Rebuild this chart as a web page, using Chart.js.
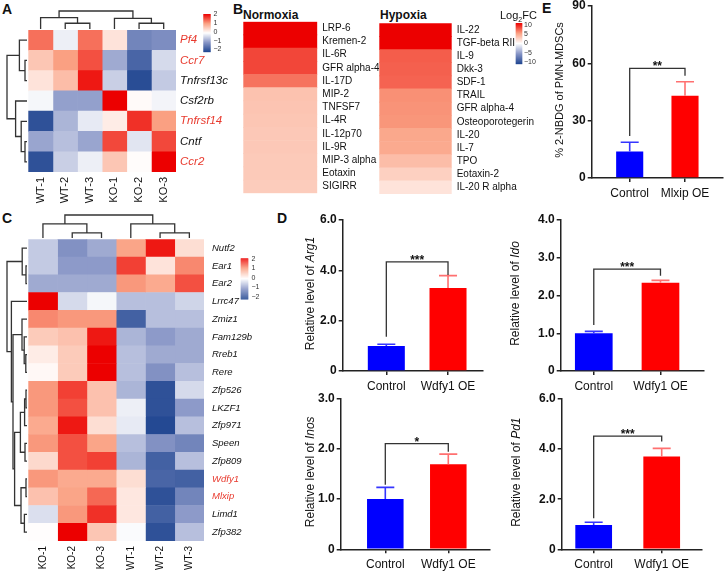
<!DOCTYPE html>
<html><head><meta charset="utf-8">
<script src="https://cdn.jsdelivr.net/npm/chart.js@4.4.1/dist/chart.umd.min.js"></script>
<style>
html,body{margin:0;padding:0;background:#fff;}
body{width:724px;height:571px;overflow:hidden;position:relative;font-family:'Liberation Sans',Arial,sans-serif;color:#111;}
canvas{position:absolute;left:0;top:0;}
.lt{position:absolute;font-weight:bold;font-size:14px;line-height:14px;white-space:nowrap;}
.tt{position:absolute;font-weight:bold;font-size:12px;line-height:12px;white-space:nowrap;}
</style></head><body>
<div class="lt" style="left:2px;top:2px">A</div>
<div class="lt" style="left:233px;top:2px">B</div>
<div class="lt" style="left:2px;top:211px">C</div>
<div class="lt" style="left:277px;top:211px">D</div>
<div class="lt" style="left:542px;top:1px">E</div>
<div class="tt" style="left:243px;top:9px">Normoxia</div>
<div class="tt" style="left:380px;top:9px">Hypoxia</div>
<script>
// ---------------- DATA ----------------
// Panel A
const colsA = ['WT-1','WT-2','WT-3','KO-1','KO-2','KO-3'];
const genesA = ['Pf4','Ccr7','Tnfrsf13c','Csf2rb','Tnfrsf14','Cntf','Ccr2'];
const redGenesA = ['Pf4','Ccr7','Tnfrsf14','Ccr2'];
const zA = [
  [1.3,-0.15,1.3,0.3,-1.2,-1.1],
  [0.6,1.0,1.5,-0.8,-1.6,-0.35],
  [0.3,0.7,1.85,-0.45,-1.9,-0.5],
  [-0.08,-0.9,-0.9,2.0,0.05,-0.1],
  [-1.85,-0.7,-0.2,0.2,1.7,1.0],
  [-0.85,-0.6,-0.85,1.55,-0.25,1.55],
  [-1.85,-0.45,-0.15,0.6,0.03,2.0]
];
const rowTreeA = [[0,[1,2,0.1],0.38],[3,[4,[5,6,0.1],0.29],0.57],1];
const colTreeA = [[0,[1,2,0.32],0.63],[3,[4,5,0.32],0.59],1];
const zTicks = [2,1,0,-1,-2];

// Panel B
const normoxiaLabels = ['LRP-6','Kremen-2','IL-6R','GFR alpha-4','IL-17D','MIP-2','TNFSF7','IL-4R','IL-12p70','IL-9R','MIP-3 alpha','Eotaxin','SIGIRR'];
const normoxiaFC = [10,10,7.8,7.8,6.4,3.2,3.1,3.0,2.9,2.9,2.8,2.8,2.7];
const hypoxiaLabels = ['IL-22','TGF-beta RII','IL-9','Dkk-3','SDF-1','TRAIL','GFR alpha-4','Osteoporotegerin','IL-20','IL-7','TPO','Eotaxin-2','IL-20 R alpha'];
const hypoxiaFC = [10,10,7.1,7.0,6.9,5.5,5.4,5.3,4.6,4.5,3.5,2.5,1.5];
const fcTicks = [10,5,0,-5,-10];

// Panel C
const colsC = ['KO-1','KO-2','KO-3','WT-1','WT-2','WT-3'];
const genesC = ['Nutf2','Ear1','Ear2','Lrrc47','Zmiz1','Fam129b','Rreb1','Rere','Zfp526','LKZF1','Zfp971','Speen','Zfp809','Wdfy1','Mlxip','Limd1','Zfp382'];
const redGenesC = ['Wdfy1','Mlxip'];
const zC = [
  [-0.5,-1.05,-0.8,0.95,1.85,0.35],
  [-0.5,-0.95,-0.95,1.6,0.3,1.15],
  [-0.8,-0.8,-0.8,1.05,0.9,1.5],
  [2.0,-0.35,-0.08,-0.6,-0.6,-0.4],
  [1.15,1.05,1.05,-1.65,-0.6,-0.6],
  [0.55,0.65,1.85,-0.7,-0.95,-0.8],
  [0.2,0.55,2.0,-0.6,-0.8,-0.8],
  [0.07,0.55,2.0,-0.6,-1.05,-0.6],
  [1.05,1.6,0.65,-0.7,-1.85,-0.35],
  [1.05,1.5,0.65,-0.15,-1.85,-0.95],
  [0.9,1.85,0.35,-0.2,-1.95,-0.6],
  [1.05,1.5,0.95,-0.6,-1.05,-1.2],
  [0.4,1.5,1.6,-0.7,-1.65,-0.6],
  [1.05,0.9,0.9,0.35,-1.6,-1.65],
  [0.65,0.95,1.35,0.25,-1.85,-1.2],
  [-0.3,1.05,1.7,0.25,-1.65,-0.95],
  [0.02,2.0,0.6,-0.04,-1.85,-0.6]
];
const rowTreeC = [[0,[1,2,0.05],0.24],[3,[[4,[5,[6,7,0.06],0.14],0.25],[[[[8,9,0.05],10,0.12],[11,12,0.1],0.33],[[13,14,0.05],[15,16,0.13],0.3],0.62],0.7],0.78],1];
const colTreeC = [[0,[1,2,0.22],0.61],[3,[4,5,0.22],0.61],1];

// Panel D
const groupsD = ['Control','Wdfy1 OE'];
const arg1Mean = [0.99,3.30], arg1Sd = [0.07,0.49];
const arg1Sig = {stars:'***', h:4.34, left:1.36, right:3.81};
const arg1Ticks = [0,2,4,6];
const idoMean = [1.0,2.34], idoSd = [0.05,0.06];
const idoSig = {stars:'***', h:2.7, left:1.22, right:2.52};
const idoTicks = [0,1,2,3,4];
const inosMean = [1.0,1.69], inosSd = [0.23,0.2];
const inosSig = {stars:'*', h:2.1, left:1.28, right:1.94};
const inosTicks = [0,1,2,3];
const pd1Mean = [0.97,3.70], pd1Sd = [0.11,0.33];
const pd1Sig = {stars:'***', h:4.52, left:1.24, right:4.3};
const pd1Ticks = [0,2,4,6];

// Panel E
const groupsE = ['Control','Mlxip OE'];
const nbdgMean = [13.9,43.1], nbdgSd = [4.8,7.3];
const nbdgSig = {stars:'**', h:57.4, left:22, right:53.5};
const nbdgTicks = [0,30,60,90];

// ---------------- SETUP ----------------
const FONT = "'Liberation Sans', Arial, Helvetica, sans-serif";
Chart.defaults.font.family = FONT;
Chart.defaults.color = '#111';
Chart.defaults.animation = false;
Chart.defaults.events = [];
Chart.defaults.responsive = false;
Chart.defaults.maintainAspectRatio = false;
Chart.defaults.plugins.legend.display = false;
Chart.defaults.plugins.tooltip.enabled = false;
const W = 724, H = 571;
const RED_TXT = '#e8392d';

function mk(){ const c=document.createElement('canvas'); c.width=W; c.height=H; c.style.width=W+'px'; c.style.height=H+'px'; document.body.appendChild(c); return c; }

function makePalette(lim){
  const stops=[[-1,[31,69,144]],[-0.5,[135,149,198]],[0,[255,255,255]],[0.5,[250,160,130]],[1,[236,0,0]]];
  return v=>{
    const t=Math.max(-1,Math.min(1,v/lim));
    for(let k=0;k<stops.length-1;k++){
      const [a,ca]=stops[k],[b,cb]=stops[k+1];
      if(t>=a&&t<=b){ const f=(t-a)/(b-a); const c=ca.map((x,i)=>Math.round(x+(cb[i]-x)*f)); return `rgb(${c[0]},${c[1]},${c[2]})`; }
    }
    return 'rgb(255,255,255)';
  };
}

function drawTree(ctx,node,leafPos,hPix,horiz){
  if(typeof node==='number') return {p:leafPos(node),h:0};
  const a=drawTree(ctx,node[0],leafPos,hPix,horiz), b=drawTree(ctx,node[1],leafPos,hPix,horiz);
  const h=node[2];
  ctx.beginPath();
  if(horiz){ ctx.moveTo(hPix(a.h),a.p); ctx.lineTo(hPix(h),a.p); ctx.lineTo(hPix(h),b.p); ctx.lineTo(hPix(b.h),b.p); }
  else { ctx.moveTo(a.p,hPix(a.h)); ctx.lineTo(a.p,hPix(h)); ctx.lineTo(b.p,hPix(h)); ctx.lineTo(b.p,hPix(b.h)); }
  ctx.stroke();
  return {p:(a.p+b.p)/2,h};
}

const dendroPlugin = { id:'dendro', afterDraw(chart,args,o){
  if(!o||(!o.rowTree&&!o.colTree)) return;
  const ctx=chart.ctx, xs=chart.scales.x, ys=chart.scales.y;
  ctx.save(); ctx.strokeStyle='#333'; ctx.lineWidth=1.3; ctx.lineJoin='miter'; ctx.lineCap='butt';
  if(o.colTree) drawTree(ctx,o.colTree,i=>xs.getPixelForValue(i+0.5),h=>o.colBase-h*o.colSpan,false);
  if(o.rowTree) drawTree(ctx,o.rowTree,i=>ys.getPixelForValue(i),h=>o.rowBase-h*o.rowSpan,true);
  ctx.restore();
}};

const colorbarPlugin = { id:'colorbar', afterDraw(chart,args,o){
  if(!o||!o.ticks) return;
  const ctx=chart.ctx, pal=makePalette(o.lim);
  ctx.save();
  for(let k=0;k<o.h;k++){ const v=o.lim-(k+0.5)/o.h*2*o.lim; ctx.fillStyle=pal(v); ctx.fillRect(o.x,o.y+k,o.w,1.2); }
  ctx.font=`${o.fs}px ${FONT}`; ctx.fillStyle='#333'; ctx.textAlign='left'; ctx.textBaseline='middle';
  o.ticks.forEach(t=>{ const yy=o.ty0+(o.lim-t)/(2*o.lim)*(o.ty1-o.ty0); ctx.fillText(String(t).replace('-','\u2212'),o.tx,yy); });
  if(o.title){
    ctx.fillStyle='#111'; ctx.textBaseline='alphabetic';
    let x=o.titleX;
    o.title.forEach(p=>{ ctx.font=`${p.sub?7:11}px ${FONT}`; ctx.fillText(p.text,x,o.titleY+(p.sub?3:0)); x+=ctx.measureText(p.text).width; });
  }
  ctx.restore();
}};

function heatmap(cfg){
  const {rows,cols,z,lim,area,yW,xH,rowFont,colFont,redRows,rowPad,colPad} = cfg;
  const pal=makePalette(lim);
  const nC=cols?cols.length:1;
  const datasets=[];
  for(let j=0;j<nC;j++) datasets.push({data:rows.map(()=>1),backgroundColor:rows.map((r,i)=>pal(Array.isArray(z[i])?z[i][j]:z[i])),borderWidth:0,barPercentage:1,categoryPercentage:1});
  const xh = cols?xH:0;
  new Chart(mk(),{type:'bar',data:{labels:rows,datasets},options:{
    indexAxis:'y',
    layout:{padding:{left:area.l,top:area.t,right:W-area.r-yW,bottom:H-area.b-xh}},
    scales:{
      x:{type:'linear',stacked:true,min:0,max:nC,bounds:'data',display:!!cols,offset:false,
         grid:{display:false,drawTicks:false},border:{display:false},
         afterBuildTicks:ax=>{ if(cols) ax.ticks=cols.map((c,i)=>({value:i+0.5})); },
         ticks:{callback:v=>cols?cols[Math.floor(v)]:'',minRotation:90,maxRotation:90,autoSkip:false,padding:colPad||4,font:colFont,color:'#111'},
         afterFit:ax=>{ax.height=xh;ax.paddingLeft=0;ax.paddingRight=0;}},
      y:{position:'right',stacked:true,offset:true,grid:{display:false,drawTicks:false},border:{display:false},
         ticks:{autoSkip:false,padding:rowPad,font:rowFont,color:c=>(redRows&&redRows.includes(rows[c.index]))?RED_TXT:'#111'},
         afterFit:ax=>{ax.width=yW;ax.paddingTop=0;ax.paddingBottom=0;}}
    },
    plugins:{dendro:cfg.dendro||{},colorbar:cfg.colorbar||{}}
  },plugins:[dendroPlugin,colorbarPlugin]});
}

const errPlugin = { id:'errbars', afterDatasetsDraw(chart,args,o){
  if(!o||!o.mean) return;
  const ctx=chart.ctx, xs=chart.scales.x, ys=chart.scales.y;
  ctx.save(); ctx.lineCap='butt';
  o.mean.forEach((m,i)=>{
    const x=xs.getPixelForValue(i), y0=ys.getPixelForValue(m), y1=ys.getPixelForValue(m+o.sd[i]);
    ctx.strokeStyle=o.colors[i]; ctx.lineWidth=1.6;
    ctx.beginPath(); ctx.moveTo(x,y0); ctx.lineTo(x,y1); ctx.moveTo(x-o.cap,y1); ctx.lineTo(x+o.cap,y1); ctx.stroke();
  });
  const s=o.sig, xl=xs.getPixelForValue(0), xr=xs.getPixelForValue(1), yb=ys.getPixelForValue(s.h);
  ctx.strokeStyle='#333'; ctx.lineWidth=1.3;
  ctx.beginPath(); ctx.moveTo(xl,ys.getPixelForValue(s.left)); ctx.lineTo(xl,yb); ctx.lineTo(xr,yb); ctx.lineTo(xr,ys.getPixelForValue(s.right)); ctx.stroke();
  ctx.fillStyle='#111'; ctx.font=`bold 12px ${FONT}`; ctx.textAlign='center'; ctx.textBaseline='alphabetic';
  ctx.fillText(s.stars,(xl+xr)/2,yb+2);
  ctx.restore();
}};

const ytitlePlugin = { id:'ytitle', afterDraw(chart,args,o){
  if(!o||!o.parts) return;
  const ctx=chart.ctx, a=chart.chartArea;
  ctx.save(); ctx.translate(o.x,(a.top+a.bottom)/2-2); ctx.rotate(-Math.PI/2);
  ctx.fillStyle='#111'; ctx.textBaseline='middle'; ctx.textAlign='left';
  const fonts=o.parts.map(p=>`${p.italic?'italic ':''}${o.size}px ${FONT}`);
  let tot=0; const ws=o.parts.map((p,i)=>{ctx.font=fonts[i]; const w=ctx.measureText(p.text).width; tot+=w; return w;});
  let xx=-tot/2;
  o.parts.forEach((p,i)=>{ctx.font=fonts[i]; ctx.fillText(p.text,xx,0); xx+=ws[i];});
  ctx.restore();
}};

function barPanel(cfg){
  const {groups,mean,sd,sig,ticks,area,xmin,xmax,barPct,fmt,title,titleX,titleSize} = cfg;
  const yW=40, xH=24;
  new Chart(mk(),{type:'bar',data:{datasets:[{data:groups.map((g,i)=>({x:i,y:mean[i]})),backgroundColor:['#0000ff','#ff0000'],borderWidth:0,barPercentage:barPct,categoryPercentage:1}]},
  options:{
    layout:{padding:{left:area.l-yW,right:W-area.r,top:area.t,bottom:H-area.b-xH}},
    scales:{
      x:{type:'linear',min:xmin,max:xmax,bounds:'data',offset:false,
         grid:{drawOnChartArea:false,drawTicks:true,tickLength:4,color:'#222',lineWidth:1.5,offset:false},
         border:{color:'#222',width:1.5},
         afterBuildTicks:ax=>{ax.ticks=groups.map((g,i)=>({value:i}));},
         ticks:{callback:v=>groups[v],autoSkip:false,maxRotation:0,minRotation:0,padding:4,font:{size:12},color:'#111'},
         afterFit:ax=>{ax.height=xH;ax.paddingLeft=0;ax.paddingRight=0;}},
      y:{type:'linear',min:ticks[0],max:ticks[ticks.length-1],
         afterBuildTicks:ax=>{ax.ticks=ticks.map(v=>({value:v}));},
         ticks:{callback:fmt,font:{size:12,weight:'bold'},color:'#111',padding:2,autoSkip:false},
         grid:{drawOnChartArea:false,drawTicks:true,tickLength:4,color:'#222',lineWidth:1.5},
         border:{color:'#222',width:1.5},
         afterFit:ax=>{ax.width=yW;ax.paddingTop=0;ax.paddingBottom=0;}}
    },
    plugins:{errbars:{mean,sd,sig,colors:['#3535ff','#ff7070'],cap:9},ytitle:{parts:title,x:titleX,size:titleSize||12}}
  },plugins:[errPlugin,ytitlePlugin]});
}

// ---------------- PANELS ----------------
heatmap({rows:genesA,cols:colsA,z:zA,lim:2,area:{l:28.3,r:176,t:30,b:172},yW:60,xH:40,
  rowFont:{size:11.5,style:'italic'},colFont:{size:11},redRows:redGenesA,rowPad:4,colPad:5,
  dendro:{rowTree:rowTreeA,colTree:colTreeA,colBase:29,colSpan:18,rowBase:27,rowSpan:20},
  colorbar:{x:203.3,y:14,w:7.4,h:38,lim:2,ticks:zTicks,tx:213.5,ty0:14.5,ty1:49.5,fs:7}});

heatmap({rows:normoxiaLabels,cols:null,z:normoxiaFC,lim:10,area:{l:243.3,r:317.3,t:21.7,b:193.3},yW:62,xH:0,
  rowFont:{size:10},rowPad:5});

heatmap({rows:hypoxiaLabels,cols:null,z:hypoxiaFC,lim:10,area:{l:379.3,r:451.7,t:23.3,b:194},yW:130,xH:0,
  rowFont:{size:10},rowPad:5,
  colorbar:{x:515.7,y:23,w:6.6,h:41,lim:10,ticks:fcTicks,tx:524,ty0:25,ty1:62,fs:7,
    title:[{text:'Log'},{text:'2',sub:true},{text:'FC'}],titleX:500,titleY:18.5}});

heatmap({rows:genesC,cols:colsC,z:zC,lim:2,area:{l:28.3,r:204,t:239.3,b:541},yW:70,xH:30,
  rowFont:{size:9.5,style:'italic'},colFont:{size:10},redRows:redGenesC,rowPad:8,colPad:5,
  dendro:{rowTree:rowTreeC,colTree:colTreeC,colBase:238,colSpan:23,rowBase:27,rowSpan:20},
  colorbar:{x:240.7,y:258.3,w:7.6,h:41,lim:2,ticks:zTicks,tx:251.5,ty0:258.8,ty1:297,fs:7}});

const fmtD = v=>v===0?'0':v.toFixed(1);
barPanel({groups:groupsD,mean:arg1Mean,sd:arg1Sd,sig:arg1Sig,ticks:arg1Ticks,area:{l:342.7,r:483,t:220,b:371},xmin:-0.707,xmax:1.567,barPct:0.6,fmt:fmtD,
  title:[{text:'Relative level of '},{text:'Arg1',italic:true}],titleX:311});
barPanel({groups:groupsD,mean:idoMean,sd:idoSd,sig:idoSig,ticks:idoTicks,area:{l:560.7,r:703.3,t:220,b:371},xmin:-0.496,xmax:1.642,barPct:0.565,fmt:fmtD,
  title:[{text:'Relative level of '},{text:'Ido',italic:true}],titleX:516});
barPanel({groups:groupsD,mean:inosMean,sd:inosSd,sig:inosSig,ticks:inosTicks,area:{l:340.7,r:490,t:398.3,b:549.3},xmin:-0.708,xmax:1.662,barPct:0.58,fmt:fmtD,
  title:[{text:'Relative level of '},{text:'Inos',italic:true}],titleX:311});
barPanel({groups:groupsD,mean:pd1Mean,sd:pd1Sd,sig:pd1Sig,ticks:pd1Ticks,area:{l:561.7,r:701.7,t:399,b:549.3},xmin:-0.47,xmax:1.588,barPct:0.54,fmt:fmtD,
  title:[{text:'Relative level of '},{text:'Pd1',italic:true}],titleX:517});
barPanel({groups:groupsE,mean:nbdgMean,sd:nbdgSd,sig:nbdgSig,ticks:nbdgTicks,area:{l:591.7,r:723,t:6,b:178},xmin:-0.687,xmax:1.687,barPct:0.49,fmt:v=>String(v),
  title:[{text:'% 2-NBDG of PMN-MDSCs'}],titleX:560,titleSize:11});
</script>
</body></html>
